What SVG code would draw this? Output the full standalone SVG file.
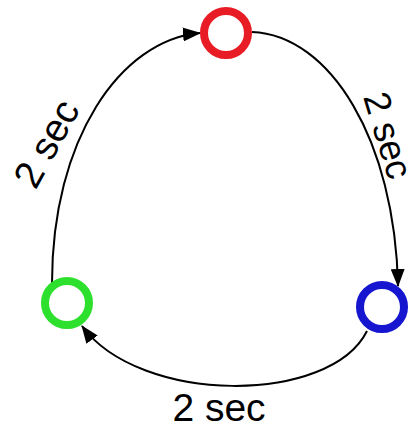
<svg xmlns="http://www.w3.org/2000/svg" width="409" height="429" viewBox="0 0 409 429">
<style>
.node{fill:none;stroke-width:8}
.edge{fill:none;stroke:#000;stroke-width:2;marker-end:url(#arr)}
.lbl{font-family:"Liberation Sans",Arial,sans-serif;font-size:39px;fill:#000;text-anchor:middle}
</style>
<defs>
<marker id="arr" markerUnits="userSpaceOnUse" markerWidth="18" markerHeight="14" refX="17" refY="7" orient="auto" viewBox="0 0 18 14">
<path d="M0,0 L18,7 L0,14 z" fill="#000"/>
</marker>
</defs>
<rect width="409" height="429" fill="#fff"/>
<g id="connectors">
<path class="edge" d="M52 283 C52 140 120 40 200 33"/>
<path class="edge" d="M252 32 C330 35 395 140 398 286"/>
<path class="edge" d="M367 331 C330 405 140 405 82 326"/>
</g>
<g id="red"><circle class="node" cx="226" cy="33" r="22" stroke="#e81c24"/></g>
<g id="blue"><circle class="node" cx="382" cy="307" r="22" stroke="#1616d0"/></g>
<g id="green"><circle class="node" cx="67" cy="303" r="22" stroke="#2ee02e"/></g>
<g id="labels">
<text class="lbl" transform="translate(58 150) rotate(-61)">2 sec</text>
<text class="lbl" style="font-size:37px" transform="translate(376 139) rotate(73)">2 sec</text>
<text class="lbl" x="219" y="421">2 sec</text>
</g>
</svg>
